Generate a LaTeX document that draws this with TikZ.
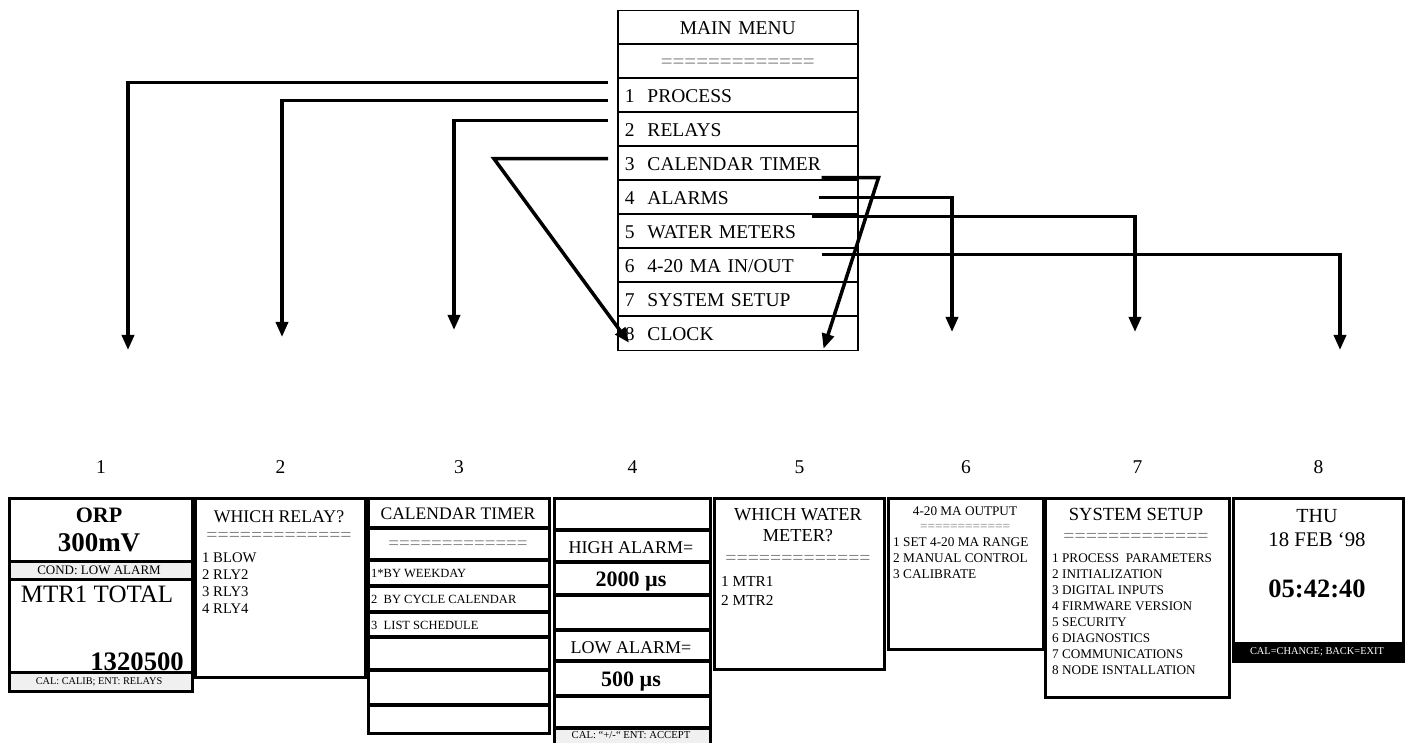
\documentclass[tikz,border=0pt]{standalone}
\usepackage{fontspec}
\setmainfont{Liberation Serif}
\usetikzlibrary{arrows.meta}
\newcommand{\txtsz}[1]{\fontsize{#1}{#1}\selectfont}

\begin{document}
\begin{tikzpicture}[x=1pt,y=-1pt,
  menurow/.style={draw,line width=1.5pt,anchor=north west,minimum height=34pt,
    text width=226pt,inner xsep=7pt,inner ysep=0pt,align=left,
    text height=13pt,text depth=0pt,font=\txtsz{19.5}},
  menuarrow/.style={line width=3.5pt,-{Triangle[length=15pt,width=12pt]}},
  screen/.style={draw,line width=3pt,anchor=north west,inner sep=0pt},
  ctext/.style={anchor=base,inner sep=0pt},
  ltext/.style={anchor=base west,inner sep=0pt},
  eqs/.style={anchor=base,inner sep=0pt,text=black!50},
  sepline/.style={line width=3.5pt},
  band/.style={fill=black!6}]
  \useasboundingbox (0,0) rectangle (1406,743);

  % main menu
  \node[menurow,align=center] (mtitle) at (617,10) {MAIN MENU};
  \node[menurow,align=center,text=black!50,font=\txtsz{21}] (meq) at (617,44) {=============};
  \foreach \i/\t in {1/PROCESS,2/RELAYS,3/CALENDAR TIMER,4/ALARMS,5/WATER METERS,
                     6/{4-20 MA IN/OUT},7/SYSTEM SETUP,8/CLOCK}
    \node[menurow] (m\i) at (617,{10+34*(\i+1)}) {\i\ \ \t};
  \foreach \k in {1,...,9}
    \draw[line width=2.6pt] (617,{10+34*\k}) -- (857,{10+34*\k});

  % screen 1: process
  \fill[band] (8,561) rectangle (191,579);
  \fill[band] (8,672) rectangle (191,690);
  \node[screen,minimum width=183pt,minimum height=193pt] (s1) at (8,497) {};
  \foreach \y in {561,579,672} \draw[line width=3pt] (8,\y) -- (191,\y);
  \node[ctext,font=\bfseries\txtsz{22}] (orp) at (99,522) {ORP};
  \node[ctext,font=\bfseries\txtsz{27}] (orpval) at (99,551) {300mV};
  \node[ctext,font=\txtsz{13}] (cond) at (99,574) {COND: LOW ALARM};
  \node[ctext,font=\txtsz{25}] (mtrtot) at (97,602) {MTR1 TOTAL};
  \node[anchor=base east,inner sep=0pt,font=\bfseries\txtsz{26.7}] (totval) at (184,670) {1320500};
  \node[ctext,font=\txtsz{10.3}] (cal1) at (99,684.5) {CAL: CALIB; ENT: RELAYS};

  % screen 2: relays
  \node[screen,minimum width=170pt,minimum height=179pt] (s2) at (194,497) {};
  \node[ctext,font=\txtsz{17.8}] (rlyhead) at (279,522) {WHICH RELAY?};
  \node[eqs,font=\txtsz{19.8}] (rlyeq) at (279,541) {=============};
  \foreach \t [count=\k] in {1 BLOW,2 RLY2,3 RLY3,4 RLY4}
    \node[ltext,font=\txtsz{14.7}] (rly\k) at (202,{545+17*\k}) {\t};

  % screen 3: calendar timer
  \node[screen,minimum width=181pt,minimum height=235pt] (s3) at (367,497) {};
  \foreach \y in {528,560,586,612,637,670,705} \draw[sepline] (367,\y) -- (548,\y);
  \node[ctext,font=\txtsz{17.6}] (calhead) at (458,519) {CALENDAR TIMER};
  \node[eqs,font=\txtsz{19}] (caleq) at (458,549) {=============};
  \foreach \t [count=\k] in {1*BY WEEKDAY,2\ \ BY CYCLE CALENDAR,3\ \ LIST SCHEDULE}
    \node[ltext,font=\txtsz{12.5}] (cal\k) at (371,{551+26*\k}) {\t};

  % screen 4: alarms
  \fill[band] (553,728) rectangle (709,746);
  \node[screen,minimum width=156pt,minimum height=249pt] (s4) at (553,497) {};
  \foreach \y in {530,562,595,630,661,696,728} \draw[sepline] (553,\y) -- (709,\y);
  \node[ctext,font=\txtsz{18}] (hihead) at (631,553) {HIGH ALARM=};
  \node[ctext,font=\bfseries\txtsz{22}] (hival) at (631,586) {2000 µs};
  \node[ctext,font=\txtsz{18}] (lohead) at (631,653) {LOW ALARM=};
  \node[ctext,font=\bfseries\txtsz{22}] (loval) at (631,686) {500 µs};
  \node[ctext,font=\txtsz{10.7}] (cal4) at (631,738.5) {CAL: “+/-“ ENT: ACCEPT};

  % screen 5: water meters
  \node[screen,minimum width=170pt,minimum height=171pt] (s5) at (713,497) {};
  \node[ctext,font=\txtsz{18.3}] (wmhead) at (798,520) {WHICH WATER};
  \node[ctext,font=\txtsz{18.3}] (wmhead2) at (798,541) {METER?};
  \node[eqs,font=\txtsz{19.8}] (wmeq) at (798,564) {=============};
  \foreach \t [count=\k] in {1 MTR1,2 MTR2}
    \node[ltext,font=\txtsz{15.3}] (wm\k) at (721,{567+19*\k}) {\t};

  % screen 6: 4-20 mA
  \node[screen,minimum width=155pt,minimum height=151pt] (s6) at (887,497) {};
  \node[ctext,font=\txtsz{13.2}] (mahead) at (965,515) {4-20 MA OUTPUT};
  \node[eqs,font=\txtsz{13.3}] (maeq) at (965,530) {============};
  \foreach \t [count=\k] in {1 SET 4-20 MA RANGE,2 MANUAL CONTROL,3 CALIBRATE}
    \node[ltext,font=\txtsz{13.3}] (ma\k) at (893,{530+16*\k}) {\t};

  % screen 7: system setup
  \node[screen,minimum width=184pt,minimum height=199pt] (s7) at (1044,497) {};
  \node[ctext,font=\txtsz{18.5}] (syshead) at (1136,520) {SYSTEM SETUP};
  \node[eqs,font=\txtsz{19.8}] (syseq) at (1136,542) {=============};
  \foreach \t [count=\k] in {1 PROCESS\ \ PARAMETERS,2 INITIALIZATION,3 DIGITAL INPUTS,
      4 FIRMWARE VERSION,5 SECURITY,6 DIAGNOSTICS,7 COMMUNICATIONS,8 NODE ISNTALLATION}
    \node[ltext,font=\txtsz{13.2}] (sys\k) at (1052,{546+16*\k}) {\t};

  % screen 8: clock
  \fill (1232,642) rectangle (1402,660);
  \node[screen,minimum width=170pt,minimum height=163pt] (s8) at (1232,497) {};
  \node[ctext,font=\txtsz{20}] (day) at (1317,522) {THU};
  \node[ctext,font=\txtsz{20.8}] (date) at (1317,546) {18 FEB ‘98};
  \node[ctext,font=\bfseries\txtsz{26.5}] (time) at (1317,597) {05:42:40};
  \node[ctext,text=white,font=\txtsz{10.4}] (cal8) at (1317,654) {CAL=CHANGE; BACK=EXIT};

  % screen numbers
  \foreach \k in {1,...,8}
    \node[ctext,font=\txtsz{19.5}] (n\k) at ([yshift=24pt]s\k.north) {\k};

  % arrow ends above the screens
  \coordinate (t1) at (128,350);
  \coordinate (t2) at (282,337);
  \coordinate (t3) at (454,330);
  \coordinate (t4) at (952,332);
  \coordinate (t5) at (1135,332);
  \coordinate (t6) at (1340,350);

  % menu arrows
  \draw[menuarrow] ([shift={(-9pt,13pt)}]m1.west) -| (t1);
  \draw[menuarrow] ([shift={(-9pt,-5pt)}]m1.west) -| (t2);
  \draw[menuarrow] ([shift={(-9pt,9pt)}]m2.west) -| (t3);
  \draw[menuarrow] ([shift={(-9pt,5pt)}]m3.west) -- ++(-114,0) -- ([shift={(12pt,-9pt)}]m8.west);
  \draw[menuarrow] ([shift={(-37pt,-14pt)}]m3.east) -- ++(57,0) -- ([shift={(-35pt,-15pt)}]m8.east);
  \draw[menuarrow] ([xshift=-40pt]m4.east) -| (t4);
  \draw[menuarrow] ([shift={(-47pt,15pt)}]m5.east) -| (t5);
  \draw[menuarrow] ([shift={(-37pt,11pt)}]m6.east) -| (t6);
\end{tikzpicture}
\end{document}
